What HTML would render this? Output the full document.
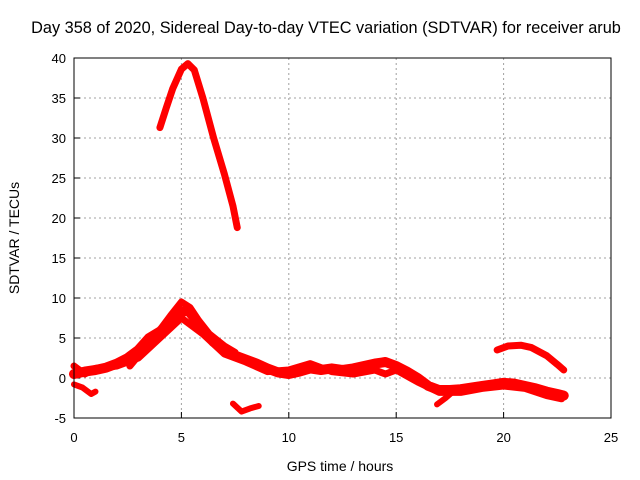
<!DOCTYPE html>
<html><head><meta charset="utf-8"><style>
html,body{margin:0;padding:0;background:#fff;}
svg{display:block;font-family:"Liberation Sans",sans-serif;}
</style></head><body>
<svg id="chart" width="640" height="480">
<text x="326" y="33" font-size="16.3" text-anchor="middle">Day 358 of 2020, Sidereal Day-to-day VTEC variation (SDTVAR) for receiver arub</text>
<text x="340" y="471" font-size="14" text-anchor="middle">GPS time / hours</text>
<text transform="translate(19,238) rotate(-90)" font-size="14" text-anchor="middle">SDTVAR / TECUs</text>
<g id="grid"></g><g id="ticks"></g><g id="series"></g>
<rect x="74" y="58" width="537" height="360" fill="none" stroke="#000" stroke-width="1"/>
</svg>
<script>
const xTicks=[0,5,10,15,20,25];
const yTicks=[-5,0,5,10,15,20,25,30,35,40];
const arcMorning=[[4.0,31.3],[4.3,33.8],[4.6,36.2],[5.0,38.6],[5.3,39.3],[5.6,38.5],[6.0,35],[6.5,30],[7.0,25.5],[7.4,21.5],[7.6,18.8]];
const mainBand=[[0,0.5],[0.5,0.8],[1,1],[1.5,1.3],[2,1.8],[2.5,2.5],[3,3.5],[3.5,5],[4,5.8],[4.5,7],[5,8.2],[5.3,8.5],[5.6,7.5],[6,6],[6.5,4.5],[7,3.5],[7.5,2.8],[8,2.3],[8.5,1.8],[9,1.2],[9.5,0.7],[10,0.5],[10.5,0.8],[11,1.2],[11.5,1],[12,1.2],[12.5,1.0],[13,1.2],[13.5,1.5],[14,1.8],[14.5,2],[15,1.5],[15.5,0.8],[16,0],[16.5,-1],[17,-1.5],[17.5,-1.5],[18,-1.4],[18.5,-1.2],[19,-1],[19.5,-0.8],[20,-0.6],[20.5,-0.7],[21,-1],[21.5,-1.3],[22,-1.7],[22.5,-2],[22.8,-2.2]];
const upperBand=[[2.6,1.5],[3,2.8],[3.5,4.5],[4,6],[4.5,7.8],[5,9.5],[5.4,8.8],[5.8,7.2],[6.3,5.5],[7,4],[7.5,3.2]];
const lowerBand=[[0,1.5],[0.5,0.5],[1,1.2],[2,1.5],[3,2.5],[4,5],[5,7.5],[6,5.5],[7,3],[8,2],[9,0.8],[10,1],[11,1.8],[12,0.8],[13,0.5],[14,1],[14.5,0.5],[15,1],[16,-0.5],[17,-1.8],[18,-1.8],[19,-1.3],[20,-1],[21,-1.3],[22,-2.2],[22.7,-2.6]];
const dipLeft=[[0,-0.8],[0.4,-1.2],[0.8,-2],[1.0,-1.7]];
const vShape=[[7.4,-3.2],[7.8,-4.2],[8.2,-3.8],[8.6,-3.5]];
const arcEvening=[[19.7,3.5],[20.2,4],[20.8,4.1],[21.3,3.8],[22,2.8],[22.5,1.7],[22.8,1]];
const dip17=[[16.9,-3.3],[17.3,-2.5],[17.6,-1.8]];
const X=h=>74+h*537/25;
const Y=v=>58+(40-v)*8;
const NS="http://www.w3.org/2000/svg";
const grid=document.getElementById('grid'),ticks=document.getElementById('ticks'),ser=document.getElementById('series');
function mk(t,a,p){const e=document.createElementNS(NS,t);for(const k in a)e.setAttribute(k,a[k]);p.appendChild(e);return e;}
xTicks.forEach(t=>{
 if(t>0&&t<25){const g=mk('line',{x1:X(t),x2:X(t),y1:58,y2:418,stroke:'#a0a0a0','stroke-dasharray':'2,3'},grid);
 
 }
 const tk=mk('line',{x1:X(t),x2:X(t),y1:418,y2:412,stroke:'#000'},ticks);
 
 
 const l=mk('text',{x:X(t),y:442,'font-size':13,'text-anchor':'middle'},ticks);l.textContent=t;
 
 
});
yTicks.forEach(t=>{
 if(t>-5&&t<40){const g=mk('line',{x1:74,x2:611,y1:Y(t),y2:Y(t),stroke:'#a0a0a0','stroke-dasharray':'2,3'},grid);
 
 }
 const tk=mk('line',{x1:74,x2:80,y1:Y(t),y2:Y(t),stroke:'#000'},ticks);
 
 
 const l=mk('text',{x:66,y:Y(t)+5,'font-size':13,'text-anchor':'end'},ticks);l.textContent=t;
 
 
});
[[arcMorning,'arc-morning',7],[mainBand,'main-band',10],[upperBand,'upper-band',7],[lowerBand,'lower-band',7],[dipLeft,'dip-left',6],[vShape,'v-segment',6],[arcEvening,'arc-evening',7],[dip17,'dip-17h',6]].forEach(([d,n,w])=>{
 const p=mk('polyline',{points:d.map(q=>X(q[0])+','+Y(q[1])).join(' '),fill:'none',stroke:'#ff0000','stroke-width':w,'stroke-linejoin':'round','stroke-linecap':'round'},ser);
 
 
});
</script>
</body></html>
